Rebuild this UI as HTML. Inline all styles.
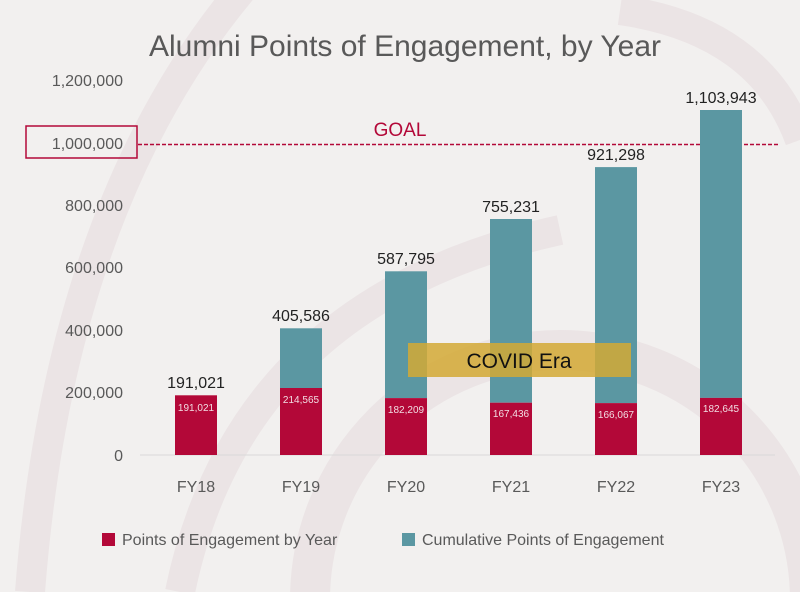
<!DOCTYPE html>
<html><head><meta charset="utf-8"><style>
html,body{margin:0;padding:0;background:#f2f0ef;width:800px;height:592px;overflow:hidden;}
svg{display:block;font-family:"Liberation Sans",sans-serif;}
</style></head><body>
<svg width="800" height="592" viewBox="0 0 800 592" xmlns="http://www.w3.org/2000/svg">
<rect width="800" height="592" fill="#f2f0ef"/>
<g fill="none" stroke="#ebe4e5" stroke-width="30">
<path d="M250 -20 Q60 200 30 592"/>
<circle cx="560" cy="600" r="250" stroke-width="40"/>
<path d="M620 10 Q760 30 800 140"/>
<path d="M180 592 Q240 300 560 230"/>
</g>
<text x="405" y="56" text-anchor="middle" font-size="30" fill="#595959">Alumni Points of Engagement, by Year</text>
<g font-size="16" fill="#595959" text-anchor="end">
<text x="123" y="86">1,200,000</text>
<text x="123" y="211">800,000</text>
<text x="123" y="273">600,000</text>
<text x="123" y="336">400,000</text>
<text x="123" y="398">200,000</text>
<text x="123" y="461">0</text>
<text x="123" y="149">1,000,000</text>
</g>
<rect x="26" y="126" width="111" height="32" fill="none" stroke="#b30838" stroke-width="1.5"/>
<line x1="140" y1="455" x2="775" y2="455" stroke="#d9d9d9" stroke-width="1"/>
<line x1="138" y1="144.5" x2="778" y2="144.5" stroke="#b30838" stroke-width="1.5" stroke-dasharray="4,2"/>
<text x="400" y="136" text-anchor="middle" font-size="19" fill="#b30838">GOAL</text>
<g>
<rect x="175" y="395.3" width="42" height="59.7" fill="#b30838"/>
<rect x="280" y="328.3" width="42" height="60" fill="#5b97a2"/>
<rect x="280" y="388" width="42" height="67" fill="#b30838"/>
<rect x="385" y="271.3" width="42" height="126.8" fill="#5b97a2"/>
<rect x="385" y="398.1" width="42" height="56.9" fill="#b30838"/>
<rect x="490" y="219" width="42" height="183.7" fill="#5b97a2"/>
<rect x="490" y="402.7" width="42" height="52.3" fill="#b30838"/>
<rect x="595" y="167.1" width="42" height="236" fill="#5b97a2"/>
<rect x="595" y="403.1" width="42" height="51.9" fill="#b30838"/>
<rect x="700" y="110" width="42" height="287.9" fill="#5b97a2"/>
<rect x="700" y="397.9" width="42" height="57.1" fill="#b30838"/>
</g>
<g font-size="10" fill="#f2dde3" text-anchor="middle">
<text x="196" y="411">191,021</text>
<text x="301" y="403">214,565</text>
<text x="406" y="413">182,209</text>
<text x="511" y="417">167,436</text>
<text x="616" y="418">166,067</text>
<text x="721" y="412">182,645</text>
</g>
<g font-size="16" fill="#222" text-anchor="middle">
<text x="196" y="388">191,021</text>
<text x="301" y="321">405,586</text>
<text x="406" y="264">587,795</text>
<text x="511" y="212">755,231</text>
<text x="616" y="160">921,298</text>
<text x="721" y="103">1,103,943</text>
</g>
<rect x="408" y="343" width="223" height="34" fill="#d4a935" fill-opacity="0.85"/>
<text x="519" y="368" text-anchor="middle" font-size="21" fill="#111">COVID Era</text>
<g font-size="16" fill="#595959" text-anchor="middle">
<text x="196" y="492">FY18</text>
<text x="301" y="492">FY19</text>
<text x="406" y="492">FY20</text>
<text x="511" y="492">FY21</text>
<text x="616" y="492">FY22</text>
<text x="721" y="492">FY23</text>
</g>
<rect x="102" y="533" width="13" height="13" fill="#b30838"/>
<text x="122" y="545" font-size="16" fill="#595959">Points of Engagement by Year</text>
<rect x="402" y="533" width="13" height="13" fill="#5b97a2"/>
<text x="422" y="545" font-size="16" fill="#595959">Cumulative Points of Engagement</text>
</svg>
</body></html>
